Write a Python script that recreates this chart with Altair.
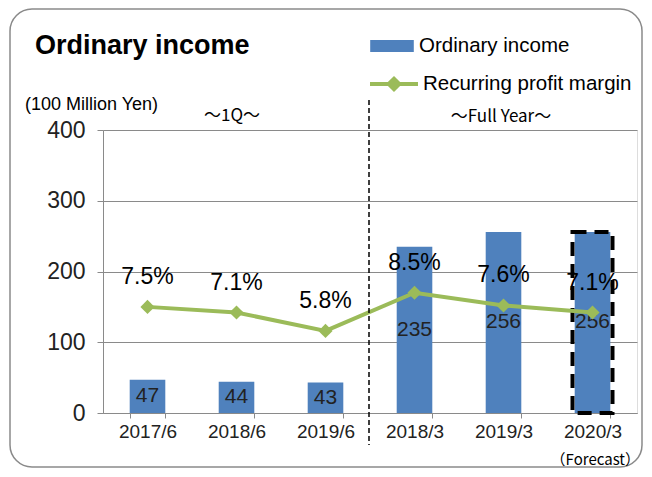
import altair as alt
import pandas as pd

categories = ["2017/6", "2018/6", "2019/6", "2018/3", "2019/3", "2020/3"]
income = [47, 44, 43, 235, 256, 256]
margin = [7.5, 7.1, 5.8, 8.5, 7.6, 7.1]
forecast = [False, False, False, False, False, True]
y_ticks = [0, 100, 200, 300, 400]

df = pd.DataFrame({"period": categories, "income": income, "margin": margin,
                   "forecast": forecast})
df["bar_series"] = "Ordinary income"
df["line_series"] = "Recurring profit margin"

W, H = 534, 283
FONT = "Liberation Sans"
CJK = "Noto Sans CJK JP"
GRAY = "#8a8a8a"
BLUE = "#4F81BD"
GREEN = "#9BBB59"

x_enc = alt.X("period:N", sort=categories,
              scale=alt.Scale(paddingInner=0.6, paddingOuter=0.3),
              axis=alt.Axis(title=None, labelAngle=0, tickBand="extent",
                            labelFontSize=19, labelFont=FONT, labelColor="#222",
                            tickSize=5, labelPadding=4, domainColor=GRAY,
                            tickColor=GRAY, grid=False))

y_inc = alt.Scale(domain=[0, 400], nice=False)
y_mar = alt.Scale(domain=[0, 20], nice=False)
y_axis = alt.Axis(title=None, values=y_ticks, grid=True, gridColor=GRAY,
                  domainColor=GRAY, tickColor=GRAY, tickSize=6,
                  labelPadding=12, labelFontSize=23, labelFont=FONT,
                  labelColor="#222")

base = alt.Chart(df)

bars = base.mark_bar().encode(
    x=x_enc,
    y=alt.Y("income:Q", scale=y_inc, axis=y_axis),
    fill=alt.Fill("bar_series:N", scale=alt.Scale(range=[BLUE]),
                  legend=alt.Legend(title=None, orient="none", legendX=267, legendY=-106,
                                    symbolType="M-1,-0.28H1V0.28H-1Z", symbolSize=1900,
                                    symbolStrokeWidth=0, labelFont=FONT, labelFontSize=20.5,
                                    labelColor="black", labelOffset=5, labelLimit=400)),
)

bar_labels = base.transform_calculate(half="datum.income / 2").mark_text(
    font=FONT, fontSize=21, color="#222", baseline="middle"
).encode(x=x_enc, y=alt.Y("half:Q", scale=y_inc, axis=y_axis), text="income:Q")

fc_box = base.transform_filter("datum.forecast").mark_bar(
    fill="transparent", stroke="black", strokeWidth=4, strokeDash=[14, 8], size=40
).encode(x=x_enc, y=alt.Y("income:Q", scale=y_inc, axis=y_axis))

inc_layer = alt.layer(bars, bar_labels, fc_box)

line = base.mark_line(strokeWidth=4).encode(
    x=x_enc,
    y=alt.Y("margin:Q", scale=y_mar, axis=None),
    stroke=alt.Stroke("line_series:N", scale=alt.Scale(range=[GREEN]),
                      legend=alt.Legend(title=None, orient="none", legendX=265, legendY=-72,
                                        symbolType="M-1,0H1M-0.22,0L0,-0.22L0.22,0L0,0.22Z",
                                        symbolSize=2300, symbolStrokeWidth=4,
                                        symbolFillColor=GREEN, labelFont=FONT,
                                        labelFontSize=20.5, labelColor="black",
                                        labelOffset=3, labelLimit=400)),
)
points = base.mark_point(shape="diamond", filled=True, size=200, color=GREEN,
                         opacity=1).encode(
    x=x_enc, y=alt.Y("margin:Q", scale=y_mar, axis=None))
pct = base.transform_calculate(lbl="format(datum.margin, '.1f') + '%'").mark_text(
    font=FONT, fontSize=23, color="black", dy=-30, baseline="middle"
).encode(x=x_enc, y=alt.Y("margin:Q", scale=y_mar, axis=None), text="lbl:N")

mar_layer = alt.layer(line, points, pct)


def note(text, x, y, size, weight="normal", align="left", font=FONT, baseline="middle"):
    return alt.Chart(pd.DataFrame({"t": [text]})).mark_text(
        align=align, baseline=baseline, fontSize=size, fontWeight=weight,
        font=font, color="black"
    ).encode(text="t:N", x=alt.value(x), y=alt.value(y))


border = alt.Chart(pd.DataFrame({"t": [0]})).mark_rect(
    fill="transparent", stroke=GRAY, strokeWidth=1.5, cornerRadius=22
).encode(x=alt.value(-93), x2=alt.value(539), y=alt.value(-121), y2=alt.value(337))

divider = alt.Chart(pd.DataFrame({"t": [0]})).mark_rule(
    color="black", strokeWidth=1.5, strokeDash=[5, 3]
).encode(x=alt.value(266), y=alt.value(-30), y2=alt.value(315))

notes = [
    note("Ordinary income", -68, -84, 27, "bold"),
    note("(100 Million Yen)", -78, -25, 18),
    note("～1Q～", 129, -14, 17, align="center", font=CJK),
    note("～Full Year～", 398, -13, 17, align="center", font=CJK),
    note("（Forecast）", 537, 338, 15, align="right", font=CJK, baseline="bottom"),
]

chart = alt.layer(border, inc_layer, mar_layer, divider, *notes).resolve_scale(
    y="independent"
).properties(
    width=W, height=H,
    autosize=alt.AutoSizeParams(type="none"),
    padding={"left": 95, "top": 122, "right": 7, "bottom": 56},
).configure_view(stroke=GRAY, strokeWidth=1.2).configure(background="white")

chart.save("out.html", embed_options={"renderer": "svg", "actions": False})
